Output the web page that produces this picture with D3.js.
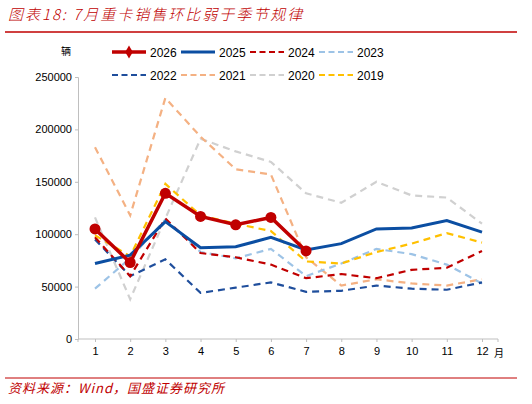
<!DOCTYPE html><html><head><meta charset="utf-8"><script src="https://cdn.jsdelivr.net/npm/d3@7"></script>
<style>body{margin:0;background:#fff}text{font-family:"Liberation Sans",Arial,sans-serif}</style></head><body><svg id="c" width="532" height="404"></svg><script>
const months=[1,2,3,4,5,6,7,8,9,10,11,12];
const yTicks=[0,50000,100000,150000,200000,250000];
const s2026=[105000,73000,139000,117000,109000,116000,84000];
const s2025=[72000,80000,112000,87000,88000,97000,85000,91000,105000,106000,113000,102000];
const s2024=[97000,60000,115000,82000,78000,71000,58000,62000,58000,66000,68000,84000];
const s2023=[48000,77000,114000,83000,77000,86000,60000,72000,86000,81000,71000,53000];
const s2022=[95000,60000,76000,44000,49000,54000,45000,46000,51000,48000,47000,54000];
const s2021=[183000,118000,230000,193000,162000,157000,78000,51000,57000,53000,51000,57000];
const s2020=[116000,38000,115000,191000,179000,169000,139000,130000,150000,137000,135000,110000];
const s2019=[99000,79000,148000,118000,110000,103000,74000,72000,83000,91000,101000,92000];
const series=[
{n:"2020",d:s2020,c:"#d0d0d0",w:2.2,dash:"7,5"},
{n:"2021",d:s2021,c:"#f4b183",w:2.2,dash:"7,5"},
{n:"2023",d:s2023,c:"#9dc3e6",w:2.2,dash:"7,5"},
{n:"2022",d:s2022,c:"#1f4e9c",w:2.2,dash:"7,5"},
{n:"2024",d:s2024,c:"#c00000",w:2.2,dash:"7,5"},
{n:"2019",d:s2019,c:"#ffc000",w:2.2,dash:"7,5"},
{n:"2025",d:s2025,c:"#0b4ea2",w:3,dash:null},
{n:"2026",d:s2026,c:"#c00000",w:3.5,dash:null,m:true}];
const svg=d3.select("#c");
svg.append("text").attr("x",8).attr("y",20).attr("fill","#c00000").attr("font-size",15).attr("font-style","italic").attr("letter-spacing",2).style("font-family","Noto Sans CJK SC").style("font-weight",300).text("图表18:  7月重卡销售环比弱于季节规律");
svg.append("line").attr("x1",5).attr("x2",517).attr("y1",32).attr("y2",32).attr("stroke","#c00000").attr("stroke-width",1.3);
svg.append("line").attr("x1",5).attr("x2",517).attr("y1",378).attr("y2",378).attr("stroke","#c00000").attr("stroke-width",1);
svg.append("text").attr("x",8).attr("y",393).attr("fill","#c00000").attr("font-size",13).attr("font-style","italic").attr("letter-spacing",1).style("font-family","Noto Sans CJK SC").text("资料来源：Wind，国盛证券研究所");
const x=d3.scaleLinear().domain([1,12]).range([95,482]);
const y=d3.scaleLinear().domain([0,250000]).range([339,77]);
const ya=svg.append("g").attr("transform","translate(78,0)").call(d3.axisLeft(y).tickValues(yTicks).tickSize(3).tickFormat(d3.format("d")));
ya.selectAll("text").attr("font-size",11).attr("fill","#000");
ya.select(".domain").attr("stroke","#bfbfbf");ya.selectAll(".tick line").attr("stroke","#bfbfbf");
const xa=svg.append("g").attr("transform","translate(0,339)").call(d3.axisBottom(x).tickValues(months).tickSize(3).tickFormat(d3.format("d")));
xa.select(".domain").attr("d","M78,3V0H498V3").attr("stroke","#bfbfbf");xa.selectAll(".tick line").attr("stroke","#bfbfbf");
xa.selectAll("text").attr("font-size",11).attr("fill","#000").attr("dy","0.9em");
svg.append("text").attr("x",494).attr("y",357).attr("font-size",10).style("font-family","Noto Sans CJK SC").text("月");
svg.append("text").attr("x",61).attr("y",55).attr("font-size",10).style("font-family","Noto Sans CJK SC").text("辆");
const line=d3.line().x((d,i)=>x(months[i])).y(d=>y(d));
series.forEach(s=>{
 svg.append("path").attr("d",line(s.d)).attr("fill","none").attr("stroke",s.c).attr("stroke-width",s.w).attr("stroke-dasharray",s.dash);
 if(s.m) svg.selectAll(null).data(s.d).enter().append("circle").attr("cx",(d,i)=>x(months[i])).attr("cy",d=>y(d)).attr("r",5.5).attr("fill",s.c);
});
const leg=["2026","2025","2024","2023","2022","2021","2020","2019"];
leg.forEach((n,i)=>{
 const s=series.find(t=>t.n===n);const lx=112+(i%4)*69, ly=52+Math.floor(i/4)*23;
 svg.append("line").attr("x1",lx).attr("x2",lx+34).attr("y1",ly).attr("y2",ly).attr("stroke",s.c).attr("stroke-width",s.w).attr("stroke-dasharray",s.dash?"6,3.5":null);
 if(s.m) svg.append("path").attr("d",d3.symbol(d3.symbolDiamond,50)()).attr("transform",`translate(${lx+17},${ly})`).attr("fill",s.c);
 svg.append("text").attr("x",lx+38).attr("y",ly+4.5).attr("font-size",12).text(n);
});
</script></body></html>
